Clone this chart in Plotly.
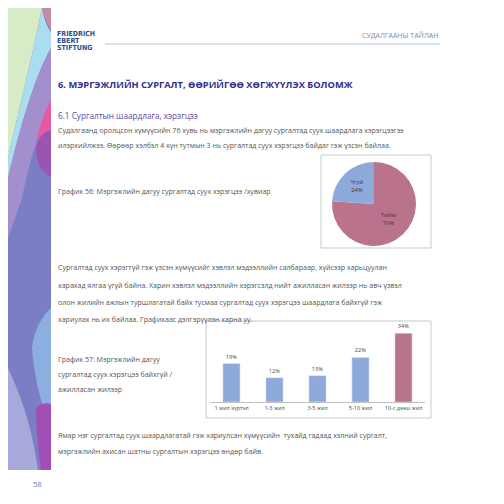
import plotly.graph_objects as go

# chart data
pie_labels = ["Тийм", "Үгүй"]
pie_values = [76, 24]
bar_categories = ["1 жил хүртэл", "1-3 жил", "3-5 жил", "5-10 жил", "10-с дээш жил"]
bar_values = [19, 12, 13, 22, 34]
bar_colors = ["#8eaadb", "#8eaadb", "#8eaadb", "#8eaadb", "#b9738d"]

W = 504
H = 504


def px(x):
    return x / W


def py(y):
    return 1 - y / H


def to_paper(path):
    # page pixel path -> paper coordinates
    out = []
    for tok in path.split():
        cmd = ""
        if tok[0].isalpha():
            cmd, tok = tok[0], tok[1:]
        if tok:
            a, b = tok.split(",")
            tok = f"{px(float(a)):.5f},{py(float(b)):.5f}"
        out.append(cmd + tok)
    return " ".join(out)


fig = go.Figure()

fig.add_trace(go.Pie(
    labels=pie_labels, values=pie_values, sort=False, direction="clockwise",
    rotation=0, marker=dict(colors=["#b9738d", "#8eaadb"]),
    texttemplate="%{label}<br>%{percent:.0%}", textposition="inside",
    insidetextorientation="horizontal",
    textfont=dict(family="Open Sans", size=6, color="#3a3a3a"),
    domain=dict(x=[px(324), px(408)], y=[py(238), py(154)]),
    showlegend=False, hoverinfo="label+percent",
))

fig.add_trace(go.Bar(
    x=bar_categories, y=bar_values, marker=dict(color=bar_colors),
    text=[f"{v}%" for v in bar_values], textposition="outside",
    textfont=dict(family="Open Sans", size=5.5, color="#444"),
    cliponaxis=False, showlegend=False,
))

fig.update_layout(
    width=W, height=H, margin=dict(l=0, r=0, t=0, b=0),
    paper_bgcolor="white", plot_bgcolor="white",
    bargap=0.6,
    xaxis=dict(domain=[px(202), px(417)], anchor="y", showgrid=False,
               showline=True, linecolor="#bfbfbf", linewidth=1, ticks="",
               tickfont=dict(family="Open Sans", size=5.5, color="#444")),
    yaxis=dict(domain=[py(394), py(313)], range=[0, 40], visible=False),
)

shapes = []
# left decorative strip
strip = [
    ("M0,0 L43,0 L43,462 L0,462 Z", "#7b7ec5"),
    ("M0,0 L34,0 C26,40 14,90 0,150 Z", "#d6ebc6"),
    ("M34,0 L43,0 L43,22 C38,14 36,8 34,0 Z", "#c48aa6"),
    ("M34,0 C36,12 40,20 43,24 L43,40 C26,70 12,120 0,170 L0,150 C14,90 26,40 34,0 Z", "#a9ddef"),
    ("M43,40 L43,100 C32,120 22,150 14,190 L0,230 L0,170 C12,120 26,70 43,40 Z", "#a38fcd"),
    ("M43,92 L43,122 C36,124 32,128 28,134 C32,118 36,104 43,92 Z", "#e65aa3"),
    ("M43,122 L43,168 C34,166 28,156 28,140 C30,130 36,124 43,122 Z", "#9a55b3"),
    ("M43,300 L43,420 C34,400 26,370 24,340 C26,322 34,308 43,300 Z", "#8cafe0"),
    ("M0,360 C14,390 24,420 30,462 L0,462 Z", "#a7a9db"),
    ("M43,396 L43,462 L33,462 C30,440 28,420 28,400 C32,396 38,394 43,396 Z", "#a24fb5"),
]
for path, col in strip:
    shapes.append(dict(type="path", path=to_paper(path), xref="paper", yref="paper",
                       fillcolor=col, line=dict(width=0), layer="below"))

# header rule
shapes.append(dict(type="line", xref="paper", yref="paper", x0=px(97), x1=px(432),
                   y0=py(36), y1=py(36), line=dict(color="#9fb2cf", width=0.8)))
# chart frames
shapes.append(dict(type="rect", xref="paper", yref="paper", x0=px(313), x1=px(423),
                   y0=py(240), y1=py(147), line=dict(color="#c9c9c9", width=1)))
shapes.append(dict(type="rect", xref="paper", yref="paper", x0=px(198), x1=px(423),
                   y0=py(410), y1=py(313), line=dict(color="#c9c9c9", width=1)))
fig.update_layout(shapes=shapes)

body = dict(family="Open Sans", size=7.05, color="#555555")
logo = dict(family="DejaVu Sans Condensed", size=7, color="#2a4d8f")
texts = [
    (48, 76, "<b>6. МЭРГЭЖЛИЙН СУРГАЛТ, ӨӨРИЙГӨӨ ХӨГЖҮҮЛЭХ БОЛОМЖ</b>",
     dict(family="Open Sans", size=9.3, color="#2f2f8c")),
    (48, 107, "6.1 Сургалтын шаардлага, хэрэгцээ", dict(family="Open Sans", size=8.2, color="#5a4aa2")),
    (48, 122, "Судалгаанд оролцсон хүмүүсийн 76 хувь нь мэргэжлийн дагуу сургалтад суух шаардлага хэрэгцээгээ", body),
    (48, 137, "илэрхийлжээ. Өөрөөр хэлбэл 4 хүн тутмын 3 нь сургалтад суух хэрэгцээ байдаг гэж үзсэн байлаа.", body),
    (48, 183, "График 56: Мэргэжлийн дагуу сургалтад суух хэрэгцээ /хувиар", body),
    (48, 259, "Сургалтад суух хэрэгтүй гэж үзсэн хүмүүсийг хэвлэл мэдээллийн салбараар, хүйсээр харьцуулан", body),
    (48, 277, "харахад ялгаа үгүй байна. Харин хэвлэл мэдээллийн хэрэгсэлд нийт ажилласан жилээр нь авч үзвэл", body),
    (48, 294, "олон жилийн ажлын туршлагатай байх тусмаа сургалтад суух хэрэгцээ шаардлага байхгүй гэж", body),
    (48, 311, "хариулах нь их байлаа. Графикаас дэлгэрүүлэн харна уу.", body),
    (48, 351, "График 57: Мэргэжлийн дагуу", body),
    (48, 366, "сургалтад суух хэрэгцээ байхгүй /", body),
    (48, 381, "ажилласан жилээр", body),
    (48, 427, "Ямар нэг сургалтад суух шаардлагатай гэж хариулсан хүмүүсийн  тухайд гадаад хэлний сургалт,", body),
    (48, 443, "мэргэжлийн ахисан шатны сургалтын хэрэгцээ өндөр байв.", body),
    (23, 476, "58", dict(family="Open Sans", size=7.5, color="#6b7ab3")),
    (47, 26, "<b>FRIEDRICH</b>", logo),
    (47, 33, "<b>EBERT</b>", logo),
    (47, 40, "<b>STIFTUNG</b>", logo),
]
for x, y, t, f in texts:
    fig.add_annotation(x=px(x), y=py(y), xref="paper", yref="paper", text=t, showarrow=False,
                       xanchor="left", yanchor="middle", font=f)
fig.add_annotation(x=px(432), y=py(27), xref="paper", yref="paper", text="СУДАЛГААНЫ ТАЙЛАН",
                   showarrow=False, xanchor="right", yanchor="middle",
                   font=dict(family="Open Sans", size=7, color="#7b8bab"))

fig.write_html("out.html")
